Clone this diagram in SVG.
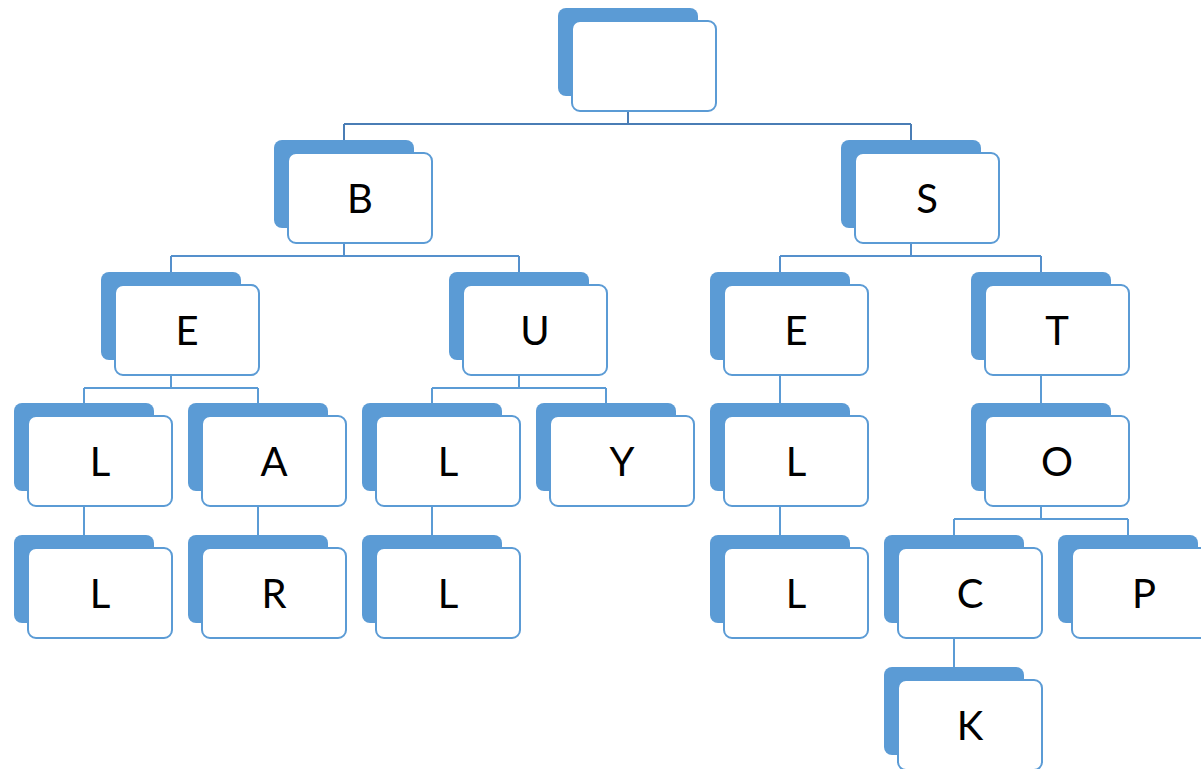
<svg xmlns="http://www.w3.org/2000/svg" width="1201" height="769" viewBox="0 0 1201 769">
  <defs>
    <style>
      .back { fill: #5b9bd5; }
      .front { fill: #ffffff; stroke: #5b9bd5; stroke-width: 2; }
      .label { font-family: Lato, "Open Sans", "Liberation Sans", sans-serif; font-size: 40px; fill: #000000; text-anchor: middle; }
      .wire { fill: none; stroke-width: 2; }
      .w1 { stroke: #4a7db5; }
      .w2 { stroke: #5590cc; }
      .w3 { stroke: #5b9bd5; }
    </style>
    <!-- one card: filled backing plate offset up-left, outlined white face -->
    <g id="card">
      <rect class="back" x="-14" y="-13" width="140" height="88" rx="8"/>
      <rect class="front" x="0" y="0" width="144" height="90" rx="8"/>
    </g>
  </defs>
  <rect width="1201" height="769" fill="#ffffff"/>

  <g id="connectors">
    <!-- root to B / S -->
    <path class="wire w1" d="M628 112 V124 M344 124 H911 M344 124 V140 M911 124 V140"/>
    <!-- B to E / U, S to E / T -->
    <path class="wire w2" d="M344 243 V256 M171 256 H519 M171 256 V272 M519 256 V272"/>
    <path class="wire w2" d="M911 243 V256 M780 256 H1041 M780 256 V272 M1041 256 V272"/>
    <!-- third level -->
    <path class="wire w3" d="M171 375 V388 M84 388 H258 M84 388 V404 M258 388 V404"/>
    <path class="wire w3" d="M519 375 V388 M432 388 H606 M432 388 V404 M606 388 V404"/>
    <path class="wire w3" d="M780 375 V404"/>
    <path class="wire w3" d="M1041 375 V404"/>
    <!-- fourth level -->
    <path class="wire w3" d="M84 507 V536"/>
    <path class="wire w3" d="M258 507 V536"/>
    <path class="wire w3" d="M432 507 V536"/>
    <path class="wire w3" d="M780 507 V536"/>
    <path class="wire w3" d="M1041 507 V519 M954 519 H1128 M954 519 V536 M1128 519 V536"/>
    <!-- fifth level -->
    <path class="wire w3" d="M954 638 V668"/>
  </g>

  <g id="root" transform="translate(572,21)"><use href="#card"/></g>

  <g id="node-b" transform="translate(288,153)"><use href="#card"/><text class="label" x="72" y="60">B</text></g>
  <g id="node-s" transform="translate(855,153)"><use href="#card"/><text class="label" x="72" y="60">S</text></g>

  <g id="node-e1" transform="translate(115,285)"><use href="#card"/><text class="label" x="72" y="60">E</text></g>
  <g id="node-u" transform="translate(463,285)"><use href="#card"/><text class="label" x="72" y="60">U</text></g>
  <g id="node-e2" transform="translate(724,285)"><use href="#card"/><text class="label" x="72" y="60">E</text></g>
  <g id="node-t" transform="translate(985,285)"><use href="#card"/><text class="label" x="72" y="60">T</text></g>

  <g id="node-l1" transform="translate(28,416)"><use href="#card"/><text class="label" x="72" y="60">L</text></g>
  <g id="node-a" transform="translate(202,416)"><use href="#card"/><text class="label" x="72" y="60">A</text></g>
  <g id="node-l3" transform="translate(376,416)"><use href="#card"/><text class="label" x="72" y="60">L</text></g>
  <g id="node-y" transform="translate(550,416)"><use href="#card"/><text class="label" x="72" y="60">Y</text></g>
  <g id="node-l5" transform="translate(724,416)"><use href="#card"/><text class="label" x="72" y="60">L</text></g>
  <g id="node-o" transform="translate(985,416)"><use href="#card"/><text class="label" x="72" y="60">O</text></g>

  <g id="node-l2" transform="translate(28,548)"><use href="#card"/><text class="label" x="72" y="60">L</text></g>
  <g id="node-r" transform="translate(202,548)"><use href="#card"/><text class="label" x="72" y="60">R</text></g>
  <g id="node-l4" transform="translate(376,548)"><use href="#card"/><text class="label" x="72" y="60">L</text></g>
  <g id="node-l6" transform="translate(724,548)"><use href="#card"/><text class="label" x="72" y="60">L</text></g>
  <g id="node-c" transform="translate(898,548)"><use href="#card"/><text class="label" x="72" y="60">C</text></g>
  <g id="node-p" transform="translate(1072,548)"><use href="#card"/><text class="label" x="72" y="60">P</text></g>

  <g id="node-k" transform="translate(898,680)"><use href="#card"/><text class="label" x="72" y="60">K</text></g>
</svg>
